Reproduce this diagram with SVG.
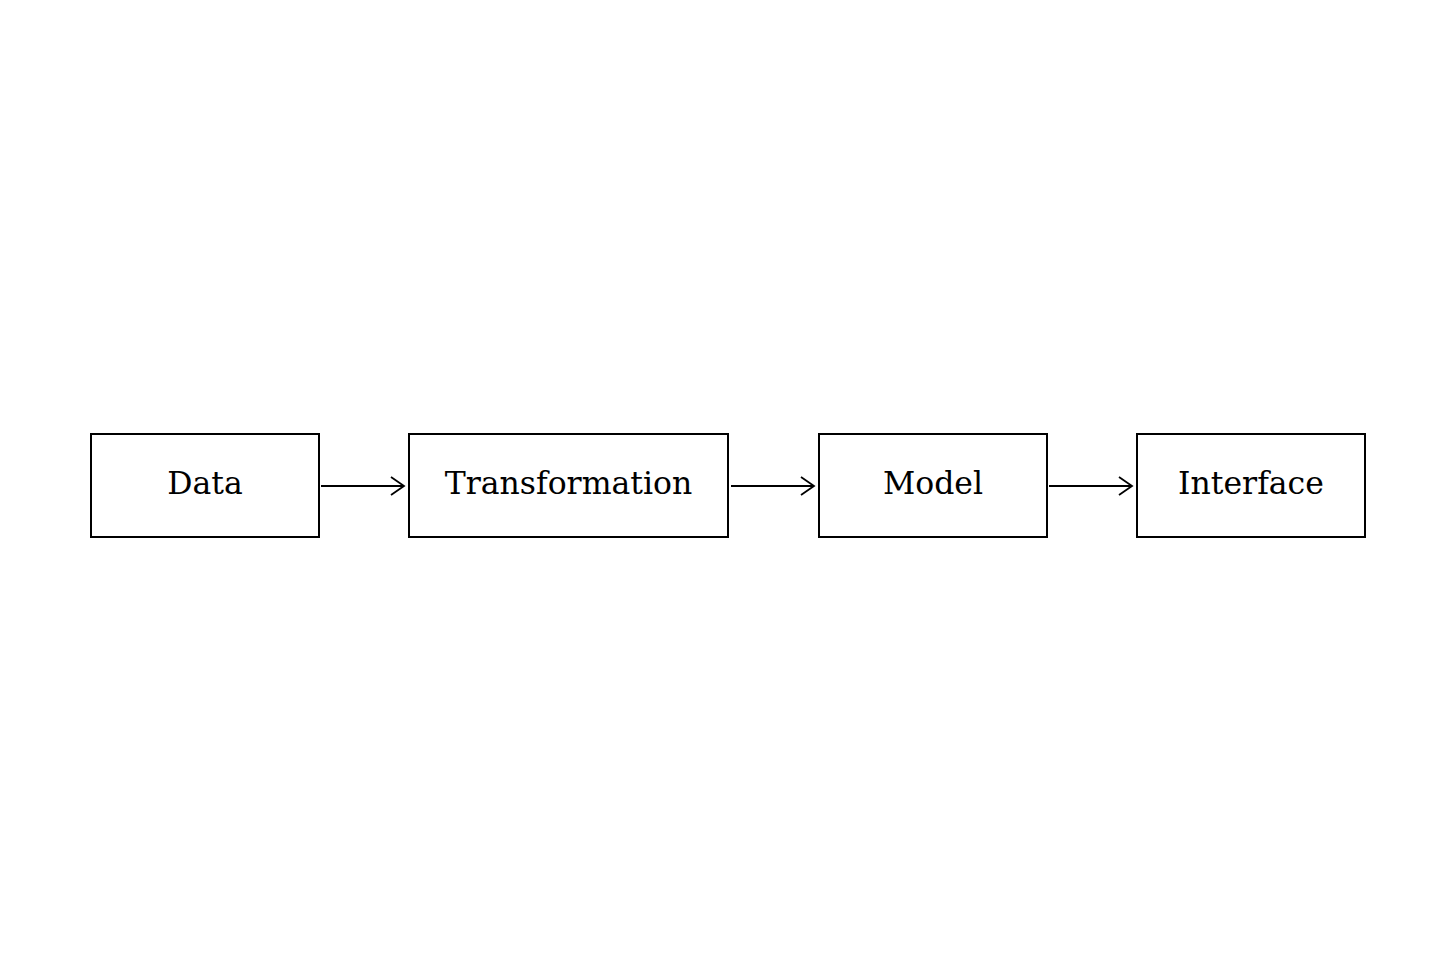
<svg xmlns="http://www.w3.org/2000/svg" width="1456" height="971" viewBox="0 0 1456 971">
<style>
.box{fill:#fff;stroke:#000;stroke-width:2}
.lbl{font-family:"DejaVu Serif",serif;font-size:31.5px;fill:#000;text-anchor:middle;dominant-baseline:central}
.edge{stroke:#000;stroke-width:1.8;fill:none}
.head{stroke:#000;stroke-width:1.8;fill:none;stroke-linejoin:miter}
</style>
<rect width="1456" height="971" fill="#fff"/>
<g id="connectors">
<line class="edge" x1="321" y1="486" x2="403" y2="486"/>
<polyline class="head" points="391,477 404,486 391,495"/>
<line class="edge" x1="731" y1="486" x2="813" y2="486"/>
<polyline class="head" points="801,477 814,486 801,495"/>
<line class="edge" x1="1049" y1="486" x2="1131" y2="486"/>
<polyline class="head" points="1119,477 1132,486 1119,495"/>
</g>
<g id="data"><rect class="box" x="91" y="434" width="228" height="103"/><text class="lbl" x="205" y="483">Data</text></g>
<g id="transformation"><rect class="box" x="409" y="434" width="319" height="103"/><text class="lbl" x="568.5" y="483">Transformation</text></g>
<g id="model"><rect class="box" x="819" y="434" width="228" height="103"/><text class="lbl" x="933" y="483">Model</text></g>
<g id="interface"><rect class="box" x="1137" y="434" width="228" height="103"/><text class="lbl" x="1251" y="483">Interface</text></g>
</svg>
